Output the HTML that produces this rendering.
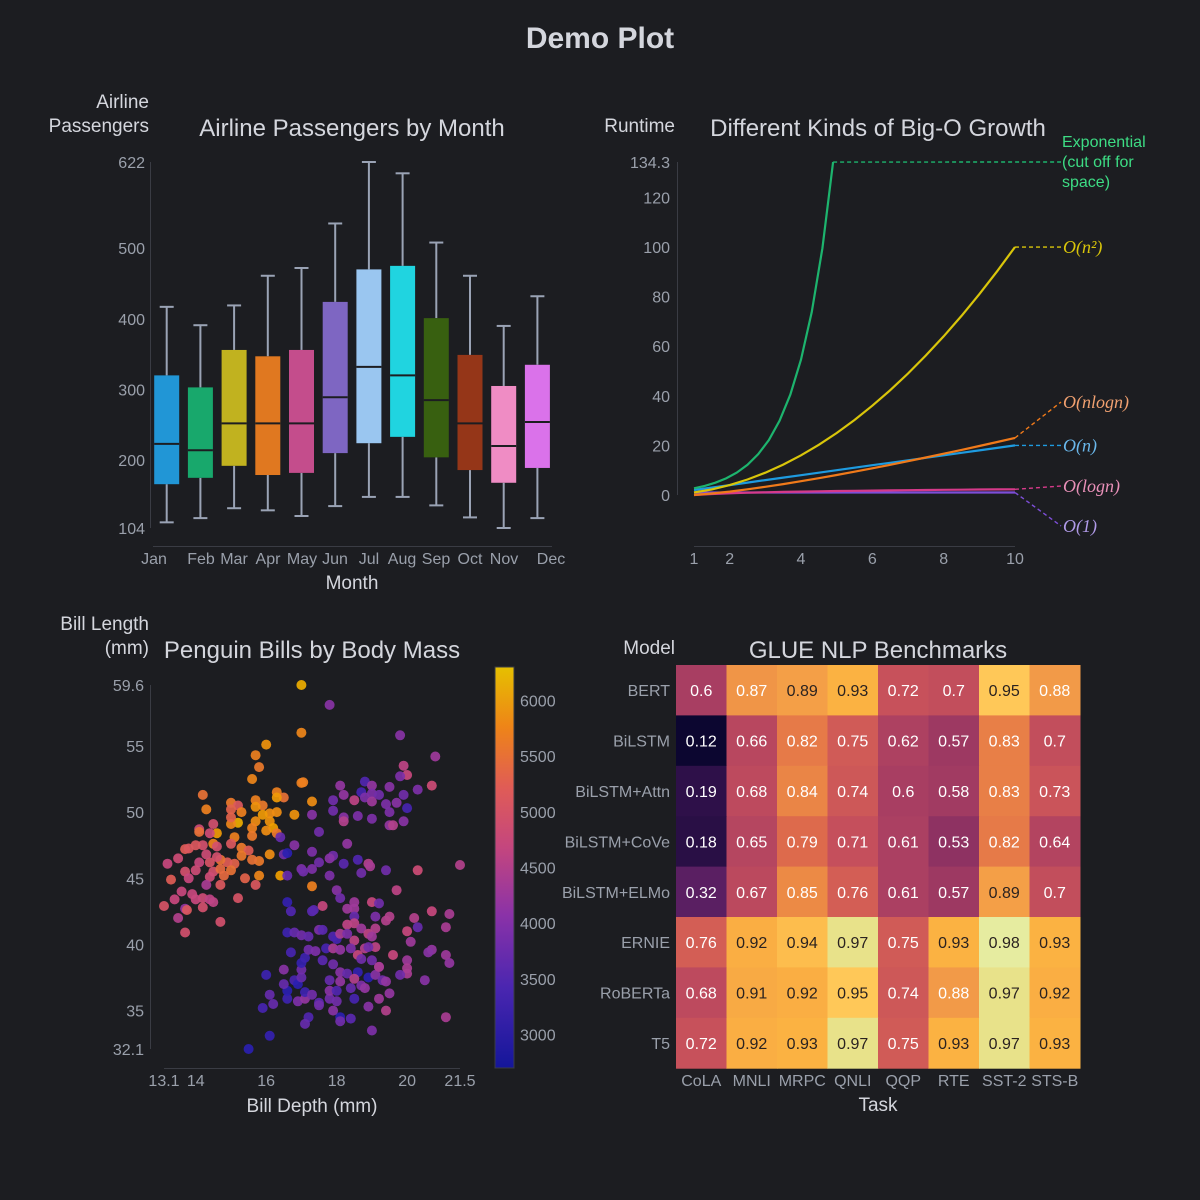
<!DOCTYPE html>
<html><head><meta charset="utf-8"><style>
html,body{margin:0;padding:0;background:#1c1d21;}
svg{display:block;font-family:"Liberation Sans",sans-serif;}
.tk{fill:#9aa0ab;font-size:16px;}
.ttl{fill:#d4d6dd;font-size:24px;}
.ax{fill:#d4d6dd;font-size:19px;}
.m{font-family:"Liberation Serif","DejaVu Serif",serif;font-style:italic;font-size:18px;}
</style></head><body>
<svg id="svg" width="1200" height="1200" viewBox="0 0 1200 1200" xmlns="http://www.w3.org/2000/svg">
<rect width="1200" height="1200" fill="#1c1d21"/>
<text x="600" y="48" text-anchor="middle" font-size="30" font-weight="bold" fill="#d4d6dd">Demo Plot</text>

<g id="box">
<text class="ttl" x="352" y="136" text-anchor="middle">Airline Passengers by Month</text>
<text class="ax" x="149" y="108" text-anchor="end"><tspan x="149">Airline</tspan><tspan x="149" dy="24">Passengers</tspan></text>
<text class="ax" x="352" y="589" text-anchor="middle">Month</text>
<line x1="150.5" y1="162" x2="150.5" y2="528" stroke="#3a3c44"/>
<line x1="153" y1="546.5" x2="552" y2="546.5" stroke="#3a3c44"/>
</g>

<g id="bigo">
<text class="ttl" x="878" y="136" text-anchor="middle">Different Kinds of Big-O Growth</text>
<text class="ax" x="675" y="132" text-anchor="end">Runtime</text>
<line x1="677.5" y1="162" x2="677.5" y2="495" stroke="#3a3c44"/>
<line x1="694" y1="546.5" x2="1015" y2="546.5" stroke="#3a3c44"/>
</g>

<g id="sc">
<text class="ttl" x="312" y="658" text-anchor="middle">Penguin Bills by Body Mass</text>
<text class="ax" x="149" y="630" text-anchor="end"><tspan x="149">Bill Length</tspan><tspan x="149" dy="24">(mm)</tspan></text>
<text class="ax" x="312" y="1112" text-anchor="middle">Bill Depth (mm)</text>
<line x1="150.5" y1="685" x2="150.5" y2="1049" stroke="#3a3c44"/>
<line x1="164" y1="1068.5" x2="460" y2="1068.5" stroke="#3a3c44"/>
<defs><linearGradient id="cb" x1="0" y1="1" x2="0" y2="0">
<stop offset="0" stop-color="#14169a"/><stop offset="0.2" stop-color="#4a26b0"/><stop offset="0.38" stop-color="#8a32a8"/><stop offset="0.55" stop-color="#c4467e"/><stop offset="0.7" stop-color="#e05c56"/><stop offset="0.85" stop-color="#ee8418"/><stop offset="1" stop-color="#e6c000"/>
</linearGradient></defs>
<rect x="495" y="667" width="19" height="401" fill="url(#cb)" stroke="#3a3c44"/>
</g>

<g id="hm">
<text class="ttl" x="878" y="658" text-anchor="middle">GLUE NLP Benchmarks</text>
<text class="ax" x="675" y="654" text-anchor="end">Model</text>
<text class="ax" x="878" y="1111" text-anchor="middle">Task</text>
</g>
</svg>
<script>
// ---------- Box plot data ----------
var months=["Jan","Feb","Mar","Apr","May","Jun","Jul","Aug","Sep","Oct","Nov","Dec"];
var boxMin=[112,118,132,129,121,135,148,148,136,119,104,118];
var boxQ1=[166,175,192,179,182,210,224,233,204,186,168,189];
var boxMed=[223,214,252,252,252,289,332,320,285,252,220,254];
var boxQ3=[320,303,356,347,356,424,470,475,401,349,305,335];
var boxMax=[417,391,419,461,472,535,622,606,508,461,390,432];
var boxColors=["#2196d6","#18a86c","#c1b21f","#e07820","#c44d8c","#7e66c2","#9ac6f0","#20d4e0","#386010","#953618","#ef8cc4","#da72ea"];
var boxYTicks=[104,200,300,400,500,622];
var monthLabelX=[154,201,234,268,302,335,369,402,436,470,504,551];

// ---------- Big-O data ----------
var xs=[1,1.5,2,2.5,3,3.5,4,4.5,5,5.5,6,6.5,7,7.5,8,8.5,9,9.5,10];
var ySq=[1,2.25,4,6.25,9,12.25,16,20.25,25,30.25,36,42.25,49,56.25,64,72.25,81,90.25,100];
var yLin=[2,3,4,5,6,7,8,9,10,11,12,13,14,15,16,17,18,19,20];
var yNlogN=[0,0.61,1.39,2.29,3.30,4.38,5.55,6.77,8.05,9.38,10.75,12.17,13.62,15.11,16.64,18.19,19.78,21.39,23.03];
var yLogN=[0,0.41,0.69,0.92,1.10,1.25,1.39,1.50,1.61,1.70,1.79,1.87,1.95,2.01,2.08,2.14,2.20,2.25,2.30];
var yConst=[1,1,1,1,1,1,1,1,1,1,1,1,1,1,1,1,1,1,1];
var xsExp=[1,1.3,1.6,1.9,2.2,2.5,2.8,3.1,3.4,3.7,4.0,4.3,4.6,4.9];
var yExp=[2.72,3.67,4.95,6.69,9.03,12.18,16.44,22.20,29.96,40.45,54.60,73.70,99.48,134.29];
var bigoYTicks=[0,20,40,60,80,100,120,134.3];
var bigoXTicks=[1,2,4,6,8,10];
var labelEndY=[134.3,100,37.5,20,3.6,-12.5]; // label anchor values

// ---------- Scatter data ----------
var depth=[17.0,17.8,17.0,16.0,15.7,15.8,15.6,19.8,20.8,17.0,17.05,
14.2,14.3,15.0,15.2,15.3,15.7,15.9,16.3,16.5,16.3,17.3,16.8,16.3,16.1,15.9,16.1,16.2,16.0,16.3,15.7,15.6,15.7,15.2,15.0,15.0,15.0,14.6,14.5,14.1,14.1,14.4,15.1,15.6,15.0,14.5,14.6,14.2,14.0,13.7,13.8,15.3,15.5,15.3,16.1,15.8,15.6,15.1,14.9,14.7,14.6,14.4,14.1,14.3,13.5,13.2,13.7,13.8,13.3,14.0,14.5,14.7,15.0,14.8,14.4,14.3,14.7,15.4,15.7,15.8,13.6,13.4,13.1,13.9,14.2,14.0,14.4,14.5,14.2,13.7,13.75,13.5,14.7,13.7,15.2,16.4,17.3,
18.1,18.2,17.9,18.8,19.0,18.7,19.0,18.5,18.8,19.0,19.2,19.5,19.9,20.0,19.8,20.3,20.7,19.9,20.0,19.7,19.5,19.4,19.0,18.6,18.2,18.2,17.9,19.5,19.6,19.9,17.3,17.5,16.8,16.4,16.5,16.6,17.3,17.9,17.8,18.3,18.2,18.6,18.7,18.9,18.95,19.4,20.3,21.5,17.8,17.5,17.3,17.0,17.05,16.6,19.7,18.0,
16.6,16.7,17.3,17.35,17.6,18.1,18.5,18.3,18.5,18.5,19.0,19.2,19.1,19.4,19.5,20.2,20.7,21.2,21.1,20.3,20.0,20.1,19.6,20.7,20.6,21.1,21.2,20.0,20.0,20.0,19.8,20.5,21.1,19.4,19.5,19.2,19.0,18.9,18.4,18.1,18.1,17.9,18.0,17.8,17.5,17.5,17.2,17.1,16.9,17.1,17.1,17.3,16.6,16.6,16.5,16.8,16.9,17.0,17.0,17.0,17.1,16.5,16.0,16.1,16.2,15.9,16.1,15.5,16.7,16.6,16.8,17.0,17.2,17.2,17.4,17.5,17.6,17.7,17.6,17.9,18.0,17.9,18.1,17.9,17.8,17.8,18.0,18.1,18.1,18.3,18.4,18.5,18.6,18.5,18.7,18.8,18.9,19.0,19.1,19.2,19.3,19.4,18.6,18.5,18.4,18.1,18.3,18.5,18.7,18.9,19.1,19.0,19.1,18.8,18.9,18.7,19.2,18.3];
var billLen=[59.6,58.1,56.0,55.1,54.3,53.4,52.5,55.8,54.2,52.2,52.25,
51.3,50.2,50.7,50.5,50.0,50.9,50.5,51.5,51.1,51.1,50.8,49.8,50.0,49.9,49.8,49.3,48.8,48.6,48.4,49.3,48.8,50.4,49.2,49.1,49.6,50.2,48.4,49.1,48.7,48.5,48.4,48.1,48.2,47.6,47.6,47.4,47.5,47.5,47.2,47.25,47.3,47.1,46.7,46.8,46.3,46.4,46.1,46.2,46.4,46.6,46.2,46.2,46.8,46.5,46.1,45.5,45.0,44.9,45.6,45.5,45.7,45.6,45.2,45.1,44.5,44.5,45.0,44.5,45.2,44.0,43.4,42.9,43.8,43.5,43.4,43.4,43.2,42.8,42.7,42.6,42.0,41.7,40.9,43.5,45.2,44.4,
52.0,51.3,50.9,52.3,52.0,51.5,51.4,50.9,51.1,50.8,51.3,51.9,53.5,52.8,52.7,51.7,52.0,51.3,50.3,50.7,50.0,50.6,49.5,49.7,49.6,49.3,50.1,49.0,49.0,49.3,49.8,48.5,47.5,48.1,46.8,46.9,47.0,46.7,46.5,47.6,46.1,46.4,45.4,46.1,45.9,45.6,45.6,46.0,45.2,46.2,45.7,45.7,45.5,45.2,44.1,44.1,
43.2,42.5,42.5,42.6,42.9,43.5,43.2,42.7,42.7,42.1,43.2,43.1,42.1,41.8,42.1,42.0,42.5,42.3,41.3,41.3,41.0,40.2,39.2,39.6,39.4,39.2,38.6,38.8,38.2,37.8,37.7,37.3,34.5,35.0,36.3,35.9,33.5,35.3,34.4,34.5,34.2,35.0,35.7,35.9,35.6,35.4,34.5,34.0,35.7,35.9,36.4,36.2,35.9,36.5,37.0,37.3,37.0,37.5,38.1,38.6,39.0,38.1,37.7,36.2,35.5,35.2,33.1,32.1,39.4,40.9,40.9,40.7,40.6,39.6,39.5,41.1,41.1,39.7,38.8,40.6,40.4,39.7,39.6,38.5,37.3,36.5,36.5,37.9,37.2,37.8,36.7,35.9,37.9,37.4,36.9,36.7,37.5,38.8,37.7,38.3,37.3,37.2,39.2,40.3,39.7,40.8,41.5,41.6,41.2,40.8,41.2,40.6,39.8,39.7,39.8,38.9,38.3,40.8];
var bodyMass=[6100,3900,5600,5800,5500,5400,5600,3900,4100,5500,5500,
5300,5500,5400,4900,5500,5500,5400,5500,5300,5900,5700,5800,5700,5700,5900,5800,6000,5700,5400,5700,5500,5800,6100,5600,5100,5100,5900,4700,4600,5300,4600,5500,5400,4900,5500,4700,4700,4900,5000,4900,5400,5000,5400,5700,5400,5300,5100,5000,5300,4700,4800,4500,4600,4600,4500,4700,4500,5000,4600,4700,5200,5300,5200,4600,4200,4900,5100,4900,5600,4500,4500,4800,4500,4600,4500,4400,4400,4700,4000,4900,4300,4700,4700,4800,6000,5500,
4000,4000,3700,3400,4000,3300,3800,4400,3800,4100,3700,3900,4400,4500,3800,3800,4600,3700,3300,3900,3800,3800,3800,3800,3900,4300,3700,4000,4300,3900,3900,3700,3900,3600,3700,3000,3800,3700,3900,4000,3500,3400,3700,4300,4200,3700,4600,4300,3800,3700,3800,3800,3700,3600,4400,3900,
3100,3400,3500,3500,4500,3700,4100,4100,4100,3600,4500,3700,3800,4300,4300,4300,4500,4200,4200,3600,4500,4100,4500,4000,3900,4100,4000,4100,4200,4200,3700,3900,4200,4300,4000,4100,3800,3900,3500,3000,3700,3900,3700,3700,3500,3700,3400,3600,3800,4000,3200,3700,3200,3000,3600,3300,3000,3600,3700,3100,3200,3900,3200,3600,3600,3300,3100,3000,3300,3200,3600,3700,3600,3700,3800,3800,3500,3300,3500,3400,3300,4200,4000,3700,3600,3900,3400,3900,4000,3600,3600,3300,3100,4300,3800,4000,3000,3700,3900,4000,3700,4000,4500,4400,3800,4200,4400,4400,4100,4400,4300,4100,4400,4300,3700,3700,4200,3800];
var scXTicks=[13.1,14,16,18,20,21.5];
var scYTicks=[32.1,35,40,45,50,55,59.6];
var cbTicks=[3000,3500,4000,4500,5000,5500,6000];

// ---------- Heatmap data ----------
var models=["BERT","BiLSTM","BiLSTM+Attn","BiLSTM+CoVe","BiLSTM+ELMo","ERNIE","RoBERTa","T5"];
var tasks=["CoLA","MNLI","MRPC","QNLI","QQP","RTE","SST-2","STS-B"];
var scores=[
[0.6,0.87,0.89,0.93,0.72,0.7,0.95,0.88],
[0.12,0.66,0.82,0.75,0.62,0.57,0.83,0.7],
[0.19,0.68,0.84,0.74,0.6,0.58,0.83,0.73],
[0.18,0.65,0.79,0.71,0.61,0.53,0.82,0.64],
[0.32,0.67,0.85,0.76,0.61,0.57,0.89,0.7],
[0.76,0.92,0.94,0.97,0.75,0.93,0.98,0.93],
[0.68,0.91,0.92,0.95,0.74,0.88,0.97,0.92],
[0.72,0.92,0.93,0.97,0.75,0.93,0.97,0.93]];

var NS="http://www.w3.org/2000/svg";
function mk(tag,attrs,parent,txt){var e=document.createElementNS(NS,tag);for(var k in attrs)e.setAttribute(k,attrs[k]);if(txt!==undefined)e.textContent=txt;parent.appendChild(e);return e;}
function hex(c){return [parseInt(c.substr(1,2),16),parseInt(c.substr(3,2),16),parseInt(c.substr(5,2),16)];}
function interp(stops,v){if(v<=stops[0][0])return stops[0][1];for(var i=1;i<stops.length;i++){if(v<=stops[i][0]){var t=(v-stops[i-1][0])/(stops[i][0]-stops[i-1][0]);var a=hex(stops[i-1][1]),b=hex(stops[i][1]);return "rgb("+Math.round(a[0]+(b[0]-a[0])*t)+","+Math.round(a[1]+(b[1]-a[1])*t)+","+Math.round(a[2]+(b[2]-a[2])*t)+")";}}return stops[stops.length-1][1];}

// Box plot
(function(){
var g=document.getElementById("box");
var ys=function(v){return 528-(v-104)*(366/518);};
var xb=function(i){return 166.7+i*33.7;};
boxYTicks.forEach(function(t){var e=mk("text",{x:145,y:ys(t)+6,"text-anchor":"end","class":"tk"},g,String(t));

});
months.forEach(function(m,i){
var e=mk("text",{x:monthLabelX[i],y:564,"text-anchor":"middle","class":"tk"},g,m);


var bg=mk("g",{},g);


var x=xb(i),w=25;
mk("line",{x1:x,x2:x,y1:ys(boxMax[i]),y2:ys(boxQ3[i]),stroke:"#9aa3b5","stroke-width":2},bg);
mk("line",{x1:x,x2:x,y1:ys(boxQ1[i]),y2:ys(boxMin[i]),stroke:"#9aa3b5","stroke-width":2},bg);
mk("line",{x1:x-7,x2:x+7,y1:ys(boxMax[i]),y2:ys(boxMax[i]),stroke:"#9aa3b5","stroke-width":2},bg);
mk("line",{x1:x-7,x2:x+7,y1:ys(boxMin[i]),y2:ys(boxMin[i]),stroke:"#9aa3b5","stroke-width":2},bg);
mk("rect",{x:x-w/2,y:ys(boxQ3[i]),width:w,height:ys(boxQ1[i])-ys(boxQ3[i]),fill:boxColors[i]},bg);
mk("line",{x1:x-w/2,x2:x+w/2,y1:ys(boxMed[i]),y2:ys(boxMed[i]),stroke:"#1c1d21","stroke-width":2},bg);
});
})();

// Big-O
(function(){
var g=document.getElementById("bigo");
var X=function(v){return 694+(v-1)*(321/9);};
var Y=function(v){return 495-v*(333/134.3);};
bigoYTicks.forEach(function(t){var e=mk("text",{x:670,y:Y(t)+6,"text-anchor":"end","class":"tk"},g,String(t));

});
bigoXTicks.forEach(function(t){var e=mk("text",{x:X(t),y:564,"text-anchor":"middle","class":"tk"},g,String(t));

});
var series=[
{n:"exp",x:xsExp,y:yExp,c:"#1db46e",lc:"#3ddc84",L:0},
{n:"n-squared",x:xs,y:ySq,c:"#d9c50a",lc:"#d9c50a",L:1},
{n:"n-log-n",x:xs,y:yNlogN,c:"#f07a1a",lc:"#f0a070",L:2},
{n:"linear",x:xs,y:yLin,c:"#1e9be0",lc:"#6ab8ec",L:3},
{n:"log-n",x:xs,y:yLogN,c:"#d63a8a",lc:"#e890b8",L:4},
{n:"constant",x:xs,y:yConst,c:"#7d4ed8",lc:"#b09ae8",L:5}];
var labels=["","O(n²)","O(nlogn)","O(n)","O(logn)","O(1)"];
series.slice().reverse().forEach(function(s){
var d=s.x.map(function(v,i){return (i?"L":"M")+X(v).toFixed(1)+" "+Y(s.y[i]).toFixed(1);}).join(" ");
var p=mk("path",{d:d,fill:"none",stroke:s.c,"stroke-width":2.2},g);


var lx=s.x[s.x.length-1],ly=s.y[s.y.length-1];
var dl=mk("line",{x1:X(lx),y1:Y(ly),x2:1061,y2:Y(labelEndY[s.L]),stroke:s.c,"stroke-width":1.4,"stroke-dasharray":"4,3"},g);


});
var t=mk("text",{x:1062,y:147,fill:"#3ddc84","font-size":16},g);


mk("tspan",{x:1062,dy:0},t,"Exponential");mk("tspan",{x:1062,dy:20},t,"(cut off for");mk("tspan",{x:1062,dy:20},t,"space)");
for(var i=1;i<6;i++){var s=series[i];
var e=mk("text",{x:1063,y:Y(labelEndY[i])+6,fill:s.lc,"class":"m"},g,labels[i]);

}
})();

// Scatter
(function(){
var g=document.getElementById("sc");
var X=function(v){return 164+(v-13.1)*(296/8.4);};
var Y=function(v){return 1049-(v-32.1)*(364/27.5);};
var massStops=[[2700,"#14169a"],[3000,"#2a1fb0"],[3500,"#5a28b0"],[4000,"#9436a2"],[4500,"#c8487e"],[5000,"#e05c56"],[5500,"#ee8020"],[6000,"#f0a000"],[6300,"#e6c800"]];
scXTicks.forEach(function(t){var e=mk("text",{x:X(t),y:1086,"text-anchor":"middle","class":"tk"},g,String(t));

});
scYTicks.forEach(function(t){var e=mk("text",{x:144,y:Y(t)+6,"text-anchor":"end","class":"tk"},g,String(t));

});
var CB=function(v){return 1068-(v-2700)*(401/3600);};
cbTicks.forEach(function(t){var e=mk("text",{x:520,y:CB(t)+6,"class":"tk"},g,String(t));

});
depth.forEach(function(d,i){
var c=mk("circle",{cx:X(d).toFixed(1),cy:Y(billLen[i]).toFixed(1),r:5,fill:interp(massStops,bodyMass[i]),"fill-opacity":0.92},g);


});
})();

// Heatmap
(function(){
var g=document.getElementById("hm");
var x0=676,y0=665,cw=50.5,ch=50.4;
var hs=[[0.12,"#0c0630"],[0.19,"#2e1049"],[0.32,"#5a1f62"],[0.53,"#8e3262"],[0.6,"#a83e62"],[0.66,"#b8475f"],[0.72,"#c7515b"],[0.76,"#d35e55"],[0.79,"#dd6a4c"],[0.82,"#e67a48"],[0.85,"#ec8a45"],[0.88,"#f29a48"],[0.91,"#f8aa44"],[0.93,"#fbb242"],[0.95,"#ffc858"],[0.97,"#e8e28a"],[0.98,"#e6eca0"]];
models.forEach(function(m,r){
var e=mk("text",{x:670,y:y0+ch*r+ch/2+6,"text-anchor":"end","class":"tk"},g,m);


tasks.forEach(function(t,c){
var v=scores[r][c];
var rc=mk("rect",{x:x0+c*cw,y:y0+r*ch,width:cw+0.5,height:ch+0.5,fill:interp(hs,v)},g);


var tx=mk("text",{x:x0+c*cw+cw/2,y:y0+r*ch+ch/2+6,"text-anchor":"middle","font-size":16,fill:v>=0.89?"#2a2220":"#ffffff"},g,String(v));


});});
tasks.forEach(function(t,c){var e=mk("text",{x:x0+c*cw+cw/2,y:1086,"text-anchor":"middle","class":"tk"},g,t);

});
})();
</script>
</body></html>
